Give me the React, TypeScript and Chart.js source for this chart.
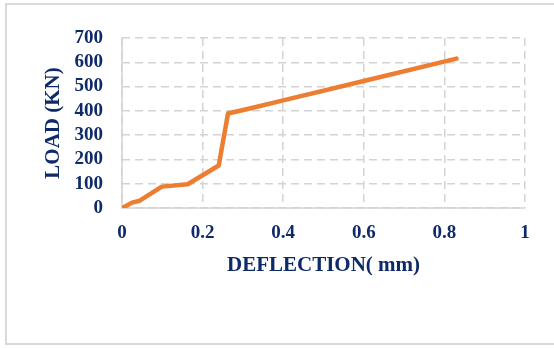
import React, { useEffect, useRef } from "react";
import { Chart, registerables } from "chart.js";

Chart.register(...registerables);

const deflection = [0, 0.012, 0.025, 0.044, 0.099, 0.163, 0.24, 0.263, 0.33, 0.4, 0.6, 0.83];
const load = [0, 10, 22, 30, 88, 98, 175, 389, 415, 443, 523, 615];
const xTicks = [0, 0.2, 0.4, 0.6, 0.8, 1];
const yTicks = [0, 100, 200, 300, 400, 500, 600, 700];

const NAVY = "#0f2a68";
const GRID = "#d3d3d3";
const FONT = "'Liberation Serif', 'Times New Roman', serif";

export default function App() {
  const ref = useRef<HTMLCanvasElement>(null);
  useEffect(() => {
    document.body.style.margin = "0";
    const ctx = ref.current!;
    const chart = new Chart(ctx, {
      type: "line",
      data: {
        datasets: [
          {
            data: deflection.map((x, i) => ({ x, y: load[i] })),
            borderColor: "#ED7D31",
            borderWidth: 4.5,
            pointRadius: 0,
            tension: 0,
            borderJoinStyle: "round",
            borderCapStyle: "round",
          },
        ],
      },
      options: {
        animation: false,
        responsive: false,
        maintainAspectRatio: false,
        layout: { padding: { top: 38, right: 29, left: 0, bottom: 0 } },
        plugins: { legend: { display: false }, tooltip: { enabled: false } },
        scales: {
          x: {
            type: "linear",
            min: 0,
            max: 1,
            afterBuildTicks: (s: any) => {
              s.ticks = xTicks.map((v) => ({ value: v }));
            },
            afterFit: (s: any) => {
              s.height = 140;
            },
            ticks: {
              color: NAVY,
              font: { family: FONT, size: 19, weight: "bold" },
              padding: 14,
              maxRotation: 0,
              autoSkip: false,
              callback: (v: any) => String(v),
            },
            grid: { color: GRID, lineWidth: 1.5, drawTicks: false },
            border: { display: false, dash: [8, 5] },
            title: {
              display: true,
              text: "DEFLECTION( mm)",
              color: NAVY,
              font: { family: FONT, size: 21, weight: "bold" },
              padding: { top: 0, bottom: 70 },
            },
          },
          y: {
            type: "linear",
            min: 0,
            max: 700,
            afterBuildTicks: (s: any) => {
              s.ticks = yTicks.map((v) => ({ value: v }));
            },
            afterFit: (s: any) => {
              s.width = 122;
            },
            ticks: {
              color: NAVY,
              font: { family: FONT, size: 19, weight: "bold" },
              padding: 19,
              autoSkip: false,
            },
            grid: { color: GRID, lineWidth: 1.5, drawTicks: false },
            border: { display: false, dash: [8, 5] },
            title: {
              display: true,
              text: "LOAD (KN)",
              color: NAVY,
              font: { family: FONT, size: 21, weight: "bold" },
              padding: { top: 41, bottom: 0 },
            },
          },
        },
      },
      plugins: [
        {
          id: "solidAxes",
          beforeDatasetsDraw: (c: any) => {
            const { ctx: g, chartArea: a } = c;
            g.save();
            g.strokeStyle = GRID;
            g.lineWidth = 1.5;
            g.setLineDash([]);
            g.beginPath();
            g.moveTo(a.left, a.top);
            g.lineTo(a.left, a.bottom);
            g.lineTo(a.right, a.bottom);
            g.stroke();
            g.restore();
          },
        },
      ],
    } as any);
    return () => chart.destroy();
  }, []);
  return (
    <div style={{ position: "relative", width: 554, height: 348, overflow: "hidden", background: "#fff" }}>
      <canvas ref={ref} width={554} height={348} style={{ display: "block" }} />
      <div
        style={{
          position: "absolute",
          left: 5,
          top: 3,
          width: 560,
          height: 338,
          border: "2px solid #d9d9d9",
          pointerEvents: "none",
        }}
      />
    </div>
  );
}
